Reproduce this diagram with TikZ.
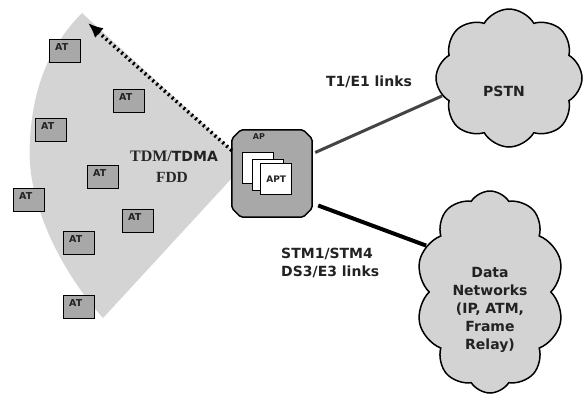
\documentclass[tikz,border=0pt]{standalone}
\usepackage{fontspec}
\usetikzlibrary{shapes.symbols,shapes.misc,arrows.meta,calc}
\newfontfamily\dv{DejaVu Sans}
\newfontfamily\tms{Liberation Serif}
\definecolor{wedgec}{HTML}{D4D4D4}
\definecolor{boxc}{HTML}{A8A8A8}
\definecolor{cloudc}{HTML}{D3D3D3}
\definecolor{txtc}{HTML}{222222}
\definecolor{linkg}{HTML}{444444}
\begin{document}
\begin{tikzpicture}[x=1pt,y=-1pt,
  atlbl/.style={anchor=north west, inner sep=0pt, xshift=6pt, yshift=-4pt, font=\dv\bfseries\fontsize{9.5}{10}\selectfont, text=txtc},
  atbox/.style={draw=black, line width=1.3pt, fill=boxc, minimum width=31pt, minimum height=23pt, inner sep=0pt, anchor=north west, label={[atlbl]north west:AT}},
  aptbox/.style={draw=black, line width=1.3pt, fill=white, minimum width=31pt, minimum height=31pt, inner sep=0pt, anchor=north west},
  netcloud/.style={cloud, draw=black, line width=1.5pt, fill=cloudc, inner sep=0pt},
  lbl/.style={font=\dv\bfseries\fontsize{14}{18}\selectfont, text=txtc, inner sep=0pt},
]
\useasboundingbox (0,0) rectangle (586,399);
% coverage wedge
\fill[wedgec] (82,13) -- (232,150) -- (232,178) -- (103,318)
  .. controls (60,270) and (25,200) .. (30,140)
  .. controls (33,80) and (55,40) .. (82,13) -- cycle;
% AT terminals
\node[atbox] (at1) at (49,39) {};
\node[atbox] (at2) at (113,89) {};
\node[atbox] (at3) at (35,118) {};
\node[atbox] (at4) at (87,165) {};
\node[atbox] (at5) at (13,188) {};
\node[atbox] (at6) at (122,209) {};
\node[atbox] (at7) at (63,231) {};
\node[atbox] (at8) at (63,295) {};
% AP
\node[minimum width=80pt, minimum height=87pt, inner sep=0pt] (ap) at (272,173.5) {};
\draw[line width=1.5pt, fill=boxc, rounded corners=2pt]
  ($(ap.north west)+(9,0)$) -- ($(ap.north east)+(-9,0)$) -- ($(ap.north east)+(0,9)$)
  -- ($(ap.south east)+(0,-9)$) -- ($(ap.south east)+(-9,0)$) -- ($(ap.south west)+(9,0)$)
  -- ($(ap.south west)+(0,-9)$) -- ($(ap.north west)+(0,9)$) -- cycle;
\node[font=\dv\bfseries\fontsize{8}{9}\selectfont, text=txtc, inner sep=0pt] (aplbl) at (259,136.5) {AP};
\node[aptbox] (apt1) at (242,152) {};
\node[aptbox] (apt2) at (252,159) {};
\node[aptbox, font=\dv\bfseries\fontsize{9}{10}\selectfont, text=txtc] (apt3) at (260,163) {APT};
% clouds
\node[netcloud, cloud puffs=8, cloud puff arc=120, aspect=1.05, minimum width=146pt, minimum height=138pt] (pstn) at (509,78) {};
\node[lbl] (pstnlbl) at (504,91) {PSTN};
\node[netcloud, cloud puffs=10, cloud puff arc=115, aspect=0.73, minimum width=148pt, minimum height=202pt] (data) at (490,292) {};
\node[lbl, align=center] (datalbl) at (490,310) {Data\\Networks\\(IP, ATM,\\Frame\\Relay)};
% links
\coordinate (t1a) at ($(ap.east)+(3,-21)$);
\coordinate (stma) at ($(ap.east)+(6,32)$);
\draw[linkg, line width=3pt] (t1a) -- (pstn.195);
\draw[black, line width=4pt] (stma) -- (data.144);
% dotted arrow
\coordinate (arrs) at ($(ap.west)+(0,-23)$);
\coordinate (arrt) at (88,23);
\draw[line width=3.6pt, dash pattern=on 2pt off 3.2pt, -{Latex[length=15pt,width=13pt]}] (arrs) -- (arrt);
% labels
\node[lbl] (t1lbl) at (369,82) {T1/E1 links};
\node[lbl, align=left, anchor=west] (stmlbl) at (281,263) {STM1/STM4\\DS3/E3 links};
\node[inner sep=0pt, text=txtc] (tdmlbl) at (174,156) {{\tms\bfseries\fontsize{16}{18}\selectfont\color{black!85}TDM/}{\dv\bfseries\fontsize{14}{16}\selectfont TDMA}};
\node[inner sep=0pt, text=black!85, font=\tms\bfseries\fontsize{15.5}{18}\selectfont] (fddlbl) at (172,177.5) {FDD};
\end{tikzpicture}
\end{document}
